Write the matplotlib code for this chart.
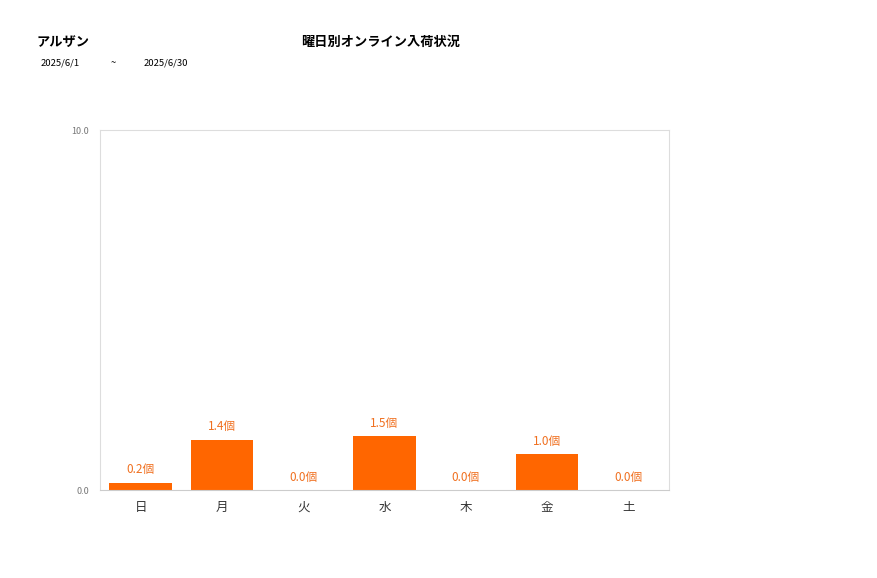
import matplotlib.pyplot as plt

plt.rcParams['font.family'] = ['Noto Sans CJK JP', 'DejaVu Sans']

days = ['日', '月', '火', '水', '木', '金', '土']
counts = [0.2, 1.4, 0.0, 1.5, 0.0, 1.0, 0.0]
labels = ['0.2個', '1.4個', '0.0個', '1.5個', '0.0個', '1.0個', '0.0個']

fig = plt.figure(figsize=(8.77, 5.78), dpi=100)
ax = fig.add_axes([100 / 877, 88 / 578, 569 / 877, 360 / 578])

x = list(range(len(days)))
bars = ax.bar(x, counts, width=0.77, color='#FF6600')
for xi, v, lab in zip(x, counts, labels):
    ax.text(xi, v + 0.18, lab, ha='center', va='bottom', fontsize=8.5, color='#F07020')

ax.set_xlim(-0.5, 6.5)
ax.set_ylim(0, 10)
ax.set_yticks([0, 10])
ax.set_yticklabels(['0.0', '10.0'], fontsize=6.5, color='#777777')
ax.set_xticks(x)
ax.set_xticklabels(days, fontsize=9, color='#333333')
ax.tick_params(axis='both', length=0)
ax.tick_params(axis='x', pad=8)
ax.tick_params(axis='y', pad=8)
for s in ax.spines.values():
    s.set_color('#DDDDDD')
    s.set_linewidth(0.8)
ax.spines['bottom'].set_color('#CCCCCC')

fig.text(37 / 877, 1 - 42 / 578, 'アルザン', fontsize=9.5, fontweight='bold', va='center', ha='left')
fig.text(381 / 877, 1 - 42 / 578, '曜日別オンライン入荷状況', fontsize=9.5, fontweight='bold', va='center', ha='center')
fig.text(41 / 877, 1 - 63 / 578, '2025/6/1', fontsize=6.8, va='center', ha='left')
fig.text(113 / 877, 1 - 63 / 578, '~', fontsize=6.8, va='center', ha='center')
fig.text(144 / 877, 1 - 63 / 578, '2025/6/30', fontsize=6.8, va='center', ha='left')

fig.savefig('out.png', dpi=100)
